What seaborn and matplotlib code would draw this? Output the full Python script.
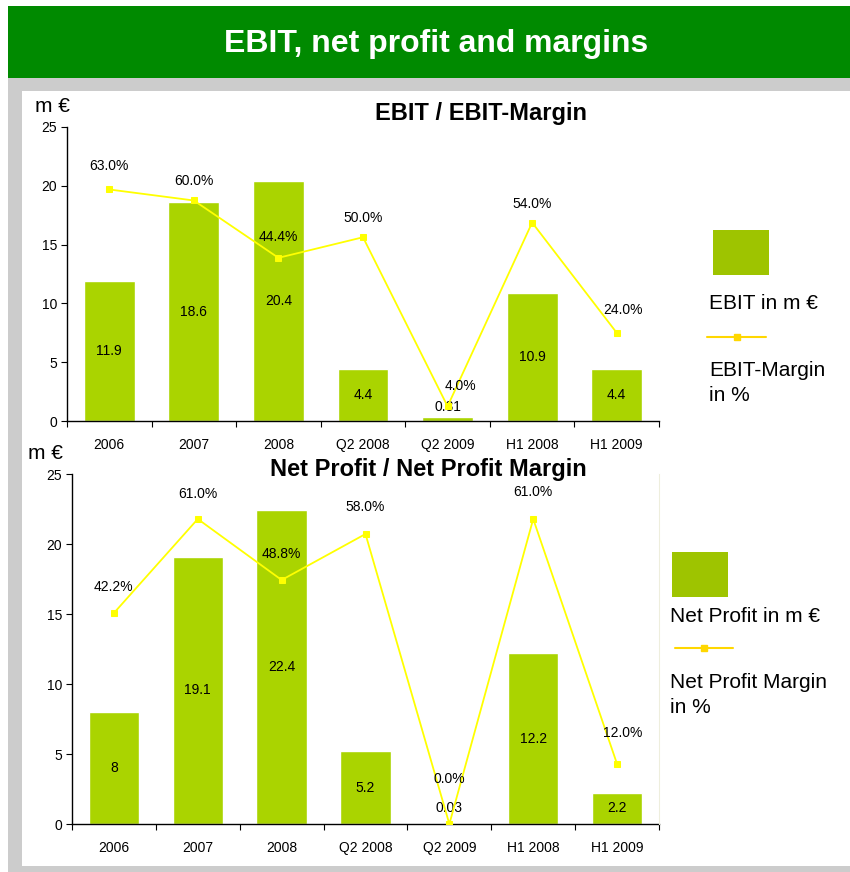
import numpy as np
import matplotlib
matplotlib.use("Agg")
import matplotlib.pyplot as plt
import seaborn as sns
from matplotlib.patches import Rectangle
from matplotlib.lines import Line2D

# data
categories = ["2006", "2007", "2008", "Q2 2008", "Q2 2009", "H1 2008", "H1 2009"]
ebit = [11.9, 18.6, 20.4, 4.4, 0.31, 10.9, 4.4]
ebit_margin = [0.63, 0.60, 0.444, 0.50, 0.04, 0.54, 0.24]
net_profit = [8, 19.1, 22.4, 5.2, 0.03, 12.2, 2.2]
net_margin = [0.422, 0.61, 0.488, 0.58, 0.0, 0.61, 0.12]

W, H = 850, 872
BAR = "#AAD400"
BAR_LEG = "#9EC400"
LINE = "#FFFF00"
LINE_LEG = "#FFD700"

sns.set_theme(style="white")
plt.rcParams["font.family"] = ["Liberation Sans", "DejaVu Sans"]
plt.rcParams["text.color"] = "black"
plt.rcParams["xtick.color"] = "black"
plt.rcParams["ytick.color"] = "black"
plt.rcParams["axes.labelcolor"] = "black"


def fx(px):
    return px / W


def fy(py):
    return 1 - py / H


fig = plt.figure(figsize=(W / 100, H / 100), dpi=100)
fig.patch.set_facecolor("white")

# slide background: green header, grey frame, white panel
fig.patches.append(Rectangle((fx(8), fy(78)), fx(842), 72 / H, transform=fig.transFigure,
                             facecolor="#008A00", edgecolor="none", zorder=-3))
fig.patches.append(Rectangle((fx(8), 0), fx(842), fy(78), transform=fig.transFigure,
                             facecolor="#CCCCCC", edgecolor="none", zorder=-3))
fig.patches.append(Rectangle((fx(22), fy(866)), fx(828), (866 - 91) / H, transform=fig.transFigure,
                             facecolor="white", edgecolor="none", zorder=-2))
fig.text(fx(436), fy(52), "EBIT, net profit and margins", ha="center", va="baseline",
         color="white", fontsize=23, fontweight="bold")


def draw_panel(rect, bars, margins, mmax, title, title_y, unit_xy, dx, dy, right_spine):
    ax = fig.add_axes(rect)
    ax.set_facecolor("none")
    x = np.arange(len(categories))
    sns.barplot(x=categories, y=bars, color=BAR, saturation=1, width=0.6, ax=ax)
    ax.set_xlim(-0.5, len(categories) - 0.5)
    ax.set_ylim(0, 25)
    ax.set_yticks([0, 5, 10, 15, 20, 25])
    ax.tick_params(axis="y", direction="out", length=4, width=0.8, color="black",
                   labelsize=10, pad=3, left=True)
    ax.tick_params(axis="x", which="major", length=0, labelsize=10, pad=12)
    ax.set_xticks(np.arange(-0.5, len(categories)), minor=True)
    ax.tick_params(axis="x", which="minor", direction="out", length=4, width=0.8,
                   color="black", bottom=True)
    for s in ["top", "right"]:
        ax.spines[s].set_visible(False)
    for s in ["left", "bottom"]:
        ax.spines[s].set_color("black")
        ax.spines[s].set_linewidth(1.0)
    ax.set_xlabel("")
    ax.set_ylabel("")

    for xi, v in zip(x, bars):
        ax.text(xi, max(v / 2, 1.15), f"{v:g}", ha="center", va="center", fontsize=10)

    ax2 = ax.twinx()
    sns.lineplot(x=x, y=margins, ax=ax2, color=LINE, linewidth=1.3, marker="s",
                 markersize=5, markeredgecolor=LINE)
    ax2.set_ylim(0, mmax)
    ax2.set_yticks([])
    ax2.set_ylabel("")
    for s in ["top", "left", "bottom"]:
        ax2.spines[s].set_visible(False)
    if right_spine:
        ax2.spines["right"].set_color("#EEEEDD")
        ax2.spines["right"].set_linewidth(0.8)
    else:
        ax2.spines["right"].set_visible(False)
    for xi, m, ox, oy in zip(x, margins, dx, dy):
        ax2.annotate(f"{m * 100:.1f}%", (xi, m), xytext=(ox, oy), textcoords="offset pixels",
                     ha="center", va="center", fontsize=10)

    fig.text(fx(587), fy(title_y), title, ha="right", va="baseline",
             fontsize=17, fontweight="bold")
    fig.text(fx(unit_xy[0]), fy(unit_xy[1]), "m €", ha="left", va="baseline", fontsize=15)
    return ax


# top panel: EBIT
draw_panel([fx(67), fy(421), fx(659 - 67), (421 - 127) / H], ebit, ebit_margin, 0.8,
           "EBIT / EBIT-Margin", 120, (35, 112),
           [0, 0, 0, 0, 13, 0, 6], [23, 20, 21, 19, 20, 19, 23], False)

# bottom panel: net profit
draw_panel([fx(72), fy(824), fx(659 - 72), (824 - 474) / H], net_profit, net_margin, 0.7,
           "Net Profit / Net Profit Margin", 476, (28, 459),
           [0, 0, 0, 0, 0, 0, 6], [26, 25, 26, 27, 45, 27, 31], True)

# legends drawn as separate pieces, like on the slide
fig.patches.append(Rectangle((fx(713), fy(275)), fx(56), 45 / H, transform=fig.transFigure,
                             facecolor=BAR_LEG, edgecolor="none"))
fig.text(fx(709), fy(309), "EBIT in m €", ha="left", va="baseline", fontsize=15)
fig.lines.append(Line2D([fx(707), fx(766)], [fy(337), fy(337)], transform=fig.transFigure,
                        color=LINE_LEG, linewidth=1.5))
fig.lines.append(Line2D([fx(737)], [fy(337)], transform=fig.transFigure, marker="s",
                        markersize=5, color=LINE_LEG, linestyle="none"))
fig.text(fx(709), fy(376), "EBIT-Margin", ha="left", va="baseline", fontsize=15)
fig.text(fx(709), fy(401), "in %", ha="left", va="baseline", fontsize=15)

fig.patches.append(Rectangle((fx(672), fy(597)), fx(56), 45 / H, transform=fig.transFigure,
                             facecolor=BAR_LEG, edgecolor="none"))
fig.text(fx(670), fy(622), "Net Profit in m €", ha="left", va="baseline", fontsize=15)
fig.lines.append(Line2D([fx(675), fx(733)], [fy(648), fy(648)], transform=fig.transFigure,
                        color=LINE_LEG, linewidth=1.5))
fig.lines.append(Line2D([fx(704)], [fy(648)], transform=fig.transFigure, marker="s",
                        markersize=5, color=LINE_LEG, linestyle="none"))
fig.text(fx(670), fy(688), "Net Profit Margin", ha="left", va="baseline", fontsize=15)
fig.text(fx(670), fy(713), "in %", ha="left", va="baseline", fontsize=15)

fig.savefig("out.png", dpi=100, facecolor=fig.get_facecolor())
